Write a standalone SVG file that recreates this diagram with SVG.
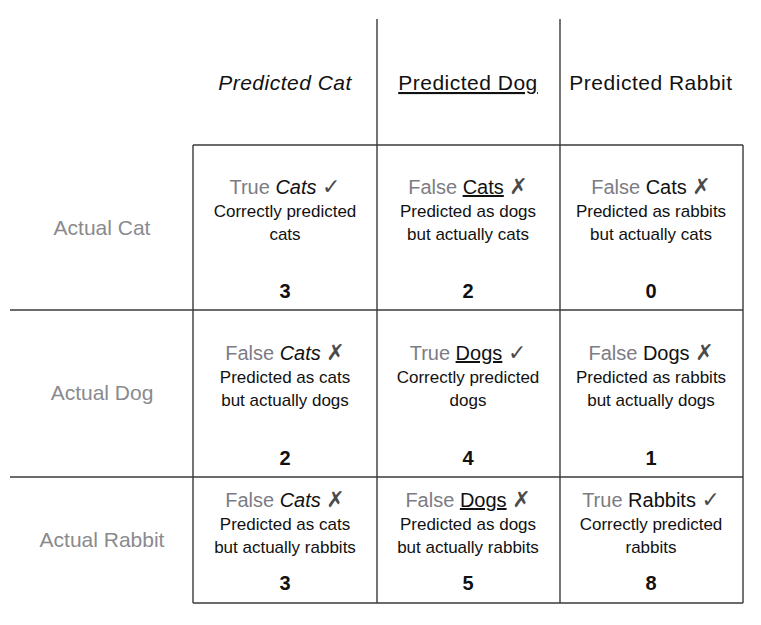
<svg xmlns="http://www.w3.org/2000/svg" width="761" height="625" viewBox="0 0 761 625">
<style>
text{font-family:"Liberation Sans",Arial,sans-serif;text-anchor:middle;fill:#111}
.hd{font-size:21px;letter-spacing:0.5px}
.rl{font-size:21px;fill:#8a8a8e}
.tt{font-size:20px}
.g{fill:#7c7c84}
.mk{font-family:"DejaVu Sans",sans-serif;font-weight:bold;fill:#4a4a4a;font-size:22px}
.d{font-size:17px}
.n{font-size:20px;font-weight:bold}
.i{font-style:italic}
.u{text-decoration:underline}
.ln{stroke:#3a3a3a;stroke-width:1.4;fill:none}
</style>
<rect width="761" height="625" fill="#fff"/>
<g id="grid">
<line class="ln" x1="377" y1="19" x2="377" y2="603"/>
<line class="ln" x1="560" y1="19" x2="560" y2="603"/>
<line class="ln" x1="193" y1="145" x2="193" y2="603"/>
<line class="ln" x1="743" y1="145" x2="743" y2="603"/>
<line class="ln" x1="193" y1="145" x2="743" y2="145"/>
<line class="ln" x1="10" y1="310" x2="743" y2="310"/>
<line class="ln" x1="10" y1="477" x2="743" y2="477"/>
<line class="ln" x1="193" y1="603" x2="743" y2="603"/>
</g>
<g id="headers">
<text class="hd i" x="285" y="90">Predicted Cat</text>
<text class="hd u" x="468" y="90">Predicted Dog</text>
<text class="hd" x="651" y="90">Predicted Rabbit</text>
</g>
<g id="rowlabels">
<text class="rl" x="102" y="235">Actual Cat</text>
<text class="rl" x="102" y="400">Actual Dog</text>
<text class="rl" x="102" y="547">Actual Rabbit</text>
</g>
<g id="c11">
<text class="tt" x="285" y="194"><tspan class="g">True </tspan><tspan class="i">Cats</tspan> <tspan class="mk">✓</tspan></text>
<text class="d" x="285" y="217">Correctly predicted</text>
<text class="d" x="285" y="240">cats</text>
<text class="n" x="285" y="298">3</text>
</g>
<g id="c12">
<text class="tt" x="468" y="194"><tspan class="g">False </tspan><tspan class="u">Cats</tspan> <tspan class="mk">✗</tspan></text>
<text class="d" x="468" y="217">Predicted as dogs</text>
<text class="d" x="468" y="240">but actually cats</text>
<text class="n" x="468" y="298">2</text>
</g>
<g id="c13">
<text class="tt" x="651" y="194"><tspan class="g">False </tspan>Cats <tspan class="mk">✗</tspan></text>
<text class="d" x="651" y="217">Predicted as rabbits</text>
<text class="d" x="651" y="240">but actually cats</text>
<text class="n" x="651" y="298">0</text>
</g>
<g id="c21">
<text class="tt" x="285" y="360"><tspan class="g">False </tspan><tspan class="i">Cats</tspan> <tspan class="mk">✗</tspan></text>
<text class="d" x="285" y="383">Predicted as cats</text>
<text class="d" x="285" y="406">but actually dogs</text>
<text class="n" x="285" y="465">2</text>
</g>
<g id="c22">
<text class="tt" x="468" y="360"><tspan class="g">True </tspan><tspan class="u">Dogs</tspan> <tspan class="mk">✓</tspan></text>
<text class="d" x="468" y="383">Correctly predicted</text>
<text class="d" x="468" y="406">dogs</text>
<text class="n" x="468" y="465">4</text>
</g>
<g id="c23">
<text class="tt" x="651" y="360"><tspan class="g">False </tspan>Dogs <tspan class="mk">✗</tspan></text>
<text class="d" x="651" y="383">Predicted as rabbits</text>
<text class="d" x="651" y="406">but actually dogs</text>
<text class="n" x="651" y="465">1</text>
</g>
<g id="c31">
<text class="tt" x="285" y="507"><tspan class="g">False </tspan><tspan class="i">Cats</tspan> <tspan class="mk">✗</tspan></text>
<text class="d" x="285" y="530">Predicted as cats</text>
<text class="d" x="285" y="553">but actually rabbits</text>
<text class="n" x="285" y="590">3</text>
</g>
<g id="c32">
<text class="tt" x="468" y="507"><tspan class="g">False </tspan><tspan class="u">Dogs</tspan> <tspan class="mk">✗</tspan></text>
<text class="d" x="468" y="530">Predicted as dogs</text>
<text class="d" x="468" y="553">but actually rabbits</text>
<text class="n" x="468" y="590">5</text>
</g>
<g id="c33">
<text class="tt" x="651" y="507"><tspan class="g">True </tspan>Rabbits <tspan class="mk">✓</tspan></text>
<text class="d" x="651" y="530">Correctly predicted</text>
<text class="d" x="651" y="553">rabbits</text>
<text class="n" x="651" y="590">8</text>
</g>
</svg>
